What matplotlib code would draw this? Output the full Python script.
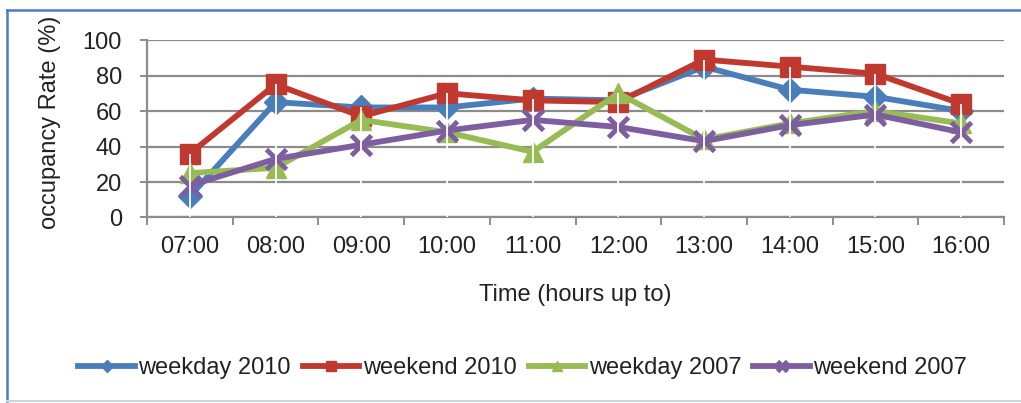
import numpy as np
import matplotlib.pyplot as plt
from matplotlib.lines import Line2D

plt.rcParams['font.family'] = ['Liberation Sans', 'DejaVu Sans']

hours = ["07:00", "08:00", "09:00", "10:00", "11:00",
         "12:00", "13:00", "14:00", "15:00", "16:00"]
weekday_2010 = [12, 65, 62, 62, 67, 66, 85, 72, 68, 60]
weekend_2010 = [36, 75, 57, 70, 66, 65, 89, 85, 81, 64]
weekday_2007 = [25, 28, 55, 48, 37, 70, 44, 53, 60, 53]
weekend_2007 = [18, 33, 41, 49, 55, 51, 43, 52, 58, 48]

series = [
    ("weekday 2010", weekday_2010, "#4a7ebb", "D", 12, 1),
    ("weekend 2010", weekend_2010, "#c0392f", "s", 15, 1),
    ("weekday 2007", weekday_2007, "#98bb55", "^", 14, 1),
    ("weekend 2007", weekend_2007, "#7d5fa0", "x", 14, 3.5),
]

fig = plt.figure(figsize=(10.21, 4.03), dpi=100)
ax = fig.add_axes([0.144, 0.4603, 0.8394, 0.4404])

x = np.arange(len(hours))
for name, vals, col, mk, ms, mew in series:
    ax.plot(x, vals, color=col, lw=4.2, marker=mk, ms=ms, mew=mew,
            mec=col, mfc=col, label=name, solid_joinstyle='miter')

# thin white drop lines through the points
tops = np.max([weekday_2010, weekend_2010, weekday_2007, weekend_2007], axis=0)
ax.vlines(x, 0, tops, colors="white", lw=1.3, zorder=5)

ax.set_xlim(-0.5, len(hours) - 0.5)
ax.set_ylim(0, 100)
ax.set_yticks(range(0, 101, 20))
ax.set_xticks(x)
ax.set_xticklabels(hours)
ax.set_xticks(np.arange(-0.5, len(hours)), minor=True)

ax.yaxis.grid(True, color="#8c8c8c", lw=1.6)
ax.set_axisbelow(True)
for s in ["top", "right"]:
    ax.spines[s].set_visible(False)
for s in ["left", "bottom"]:
    ax.spines[s].set_color("#8c8c8c")
    ax.spines[s].set_linewidth(1.6)

ax.tick_params(axis="x", which="major", length=0, pad=13, labelsize=17, colors="#222222")
ax.tick_params(axis="x", which="minor", length=6, width=1.4, color="#8c8c8c")
ax.tick_params(axis="y", length=5, width=1.4, color="#8c8c8c", pad=13,
               labelsize=17, labelcolor="#222222")

ax.set_xlabel("Time (hours up to)", fontsize=17, color="#222222")
ax.xaxis.set_label_coords(0.5, -0.437)
ax.xaxis.label.set_va("center")
ax.set_ylabel("occupancy Rate (%)", fontsize=17, color="#222222")
ax.yaxis.set_label_coords(-0.113, 0.535)
ax.yaxis.label.set_va("center")

fig.legend(loc="center", bbox_to_anchor=(0.512, 0.087), ncol=4, frameon=False,
           fontsize=17, handlelength=2.4, handletextpad=0.15, columnspacing=0.5,
           markerscale=0.5, labelcolor="#222222")

# chart frame
fig.add_artist(Line2D([0.0065, 0.0065], [0.005, 0.975], color="#4a7ebb", lw=1.8))
fig.add_artist(Line2D([0.0065, 1.0], [0.975, 0.975], color="#4a7ebb", lw=1.8))
fig.add_artist(Line2D([0.0065, 1.0], [0.005, 0.005], color="#c8d6e6", lw=1.5))

fig.savefig("out.png", dpi=100)
